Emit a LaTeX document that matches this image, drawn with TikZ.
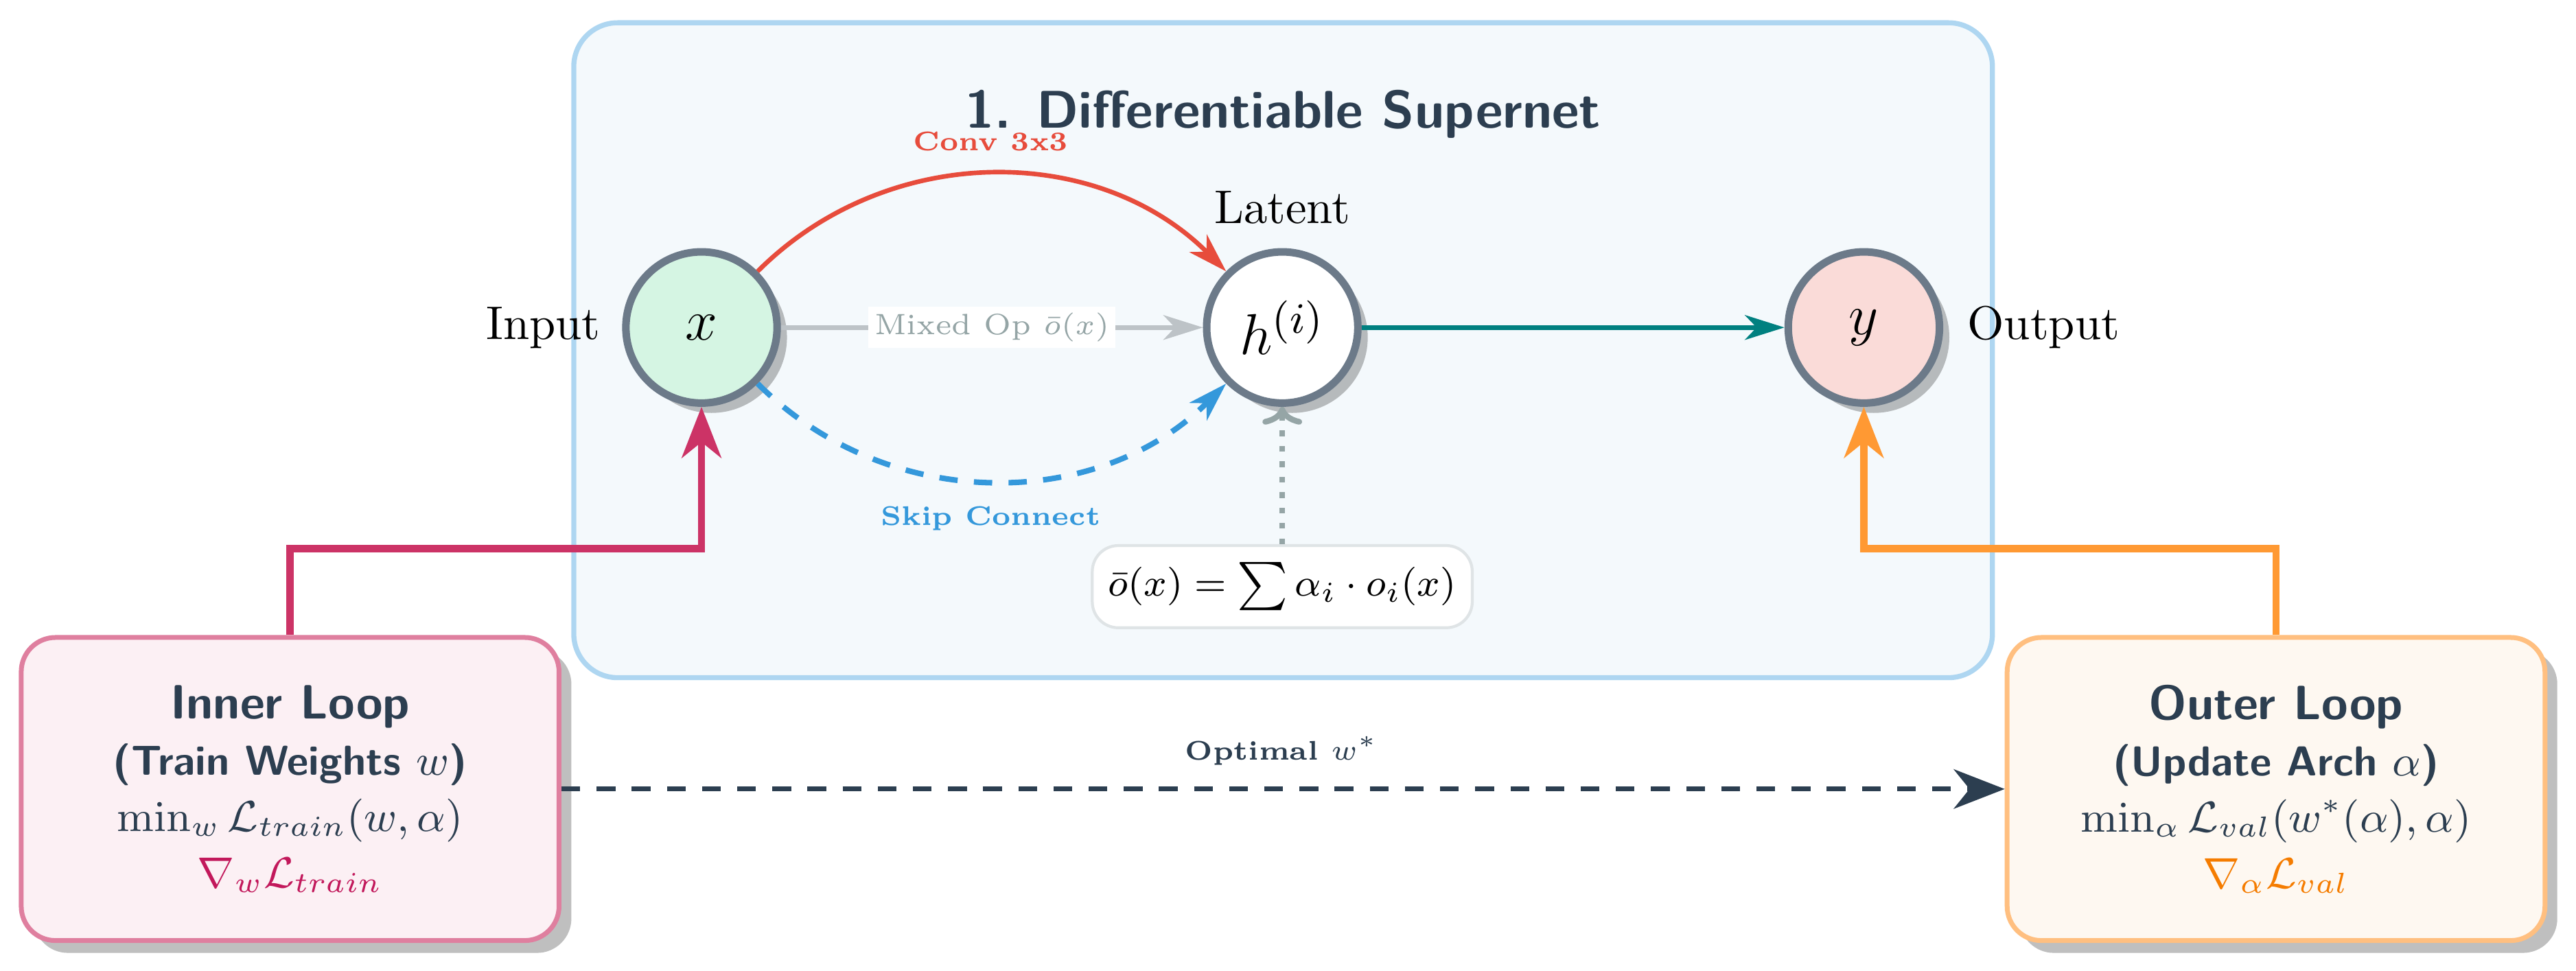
\documentclass[tikz,border=0pt]{standalone}
\usetikzlibrary{arrows.meta,shadows}
\definecolor{dark}{HTML}{2C3E50}
\definecolor{boxblue}{HTML}{AED6F1}
\definecolor{fillblue}{HTML}{F4F9FC}
\definecolor{nodegray}{HTML}{6C7A89}
\definecolor{xfill}{HTML}{D5F5E3}
\definecolor{yfill}{HTML}{FADBD8}
\definecolor{convred}{HTML}{E74C3C}
\definecolor{skipblue}{HTML}{3498DB}
\definecolor{mixgray}{HTML}{BDC3C7}
\definecolor{mixtext}{HTML}{95A5A6}
\definecolor{tealc}{HTML}{008080}
\definecolor{magc}{HTML}{CC3366}
\definecolor{orac}{HTML}{FF9933}
\definecolor{innerfill}{HTML}{FCF0F4}
\definecolor{innerdraw}{HTML}{DF7F9F}
\definecolor{outerfill}{HTML}{FEF8F1}
\definecolor{outerdraw}{HTML}{FFBF80}
\definecolor{gradred}{HTML}{C2185B}
\definecolor{gradorange}{HTML}{F57C00}
\definecolor{formdraw}{HTML}{DFE4E6}
\definecolor{dotgray}{HTML}{95A5A6}
\begin{document}
\begin{tikzpicture}[x=0.012cm,y=0.012cm,
  circ/.style={circle, draw=nodegray, line width=1.57pt, minimum size=1.104cm, inner sep=0pt,
    font=\fontsize{13}{15}\selectfont,
    drop shadow={shadow xshift=0.072cm, shadow yshift=-0.072cm, fill=black, opacity=0.25}},
  loopbox/.style={rounded corners=0.25cm, line width=1pt, minimum width=3.926cm, minimum height=2.213cm,
    align=center, text=dark, font=\fontsize{9}{11.7}\selectfont,
    drop shadow={shadow xshift=0.09cm, shadow yshift=-0.09cm, fill=black, opacity=0.25}},
  lbl/.style={font=\fontsize{5.6}{7}\selectfont\bfseries, anchor=base, inner sep=0pt},
  plainlbl/.style={font=\fontsize{9.8}{12}\selectfont, inner sep=0pt},
  headfont/.style={font=\fontsize{11}{13}\selectfont\sffamily\bfseries},
  bigarrow/.style={-{Stealth[length=0.372cm,width=0.288cm,inset=0.115cm]}},
  smallarrow/.style={-{Stealth[length=0.288cm,width=0.18cm,inset=0.085cm]}},
]
\useasboundingbox (0,0) rectangle (1568,591);

% supernet container
\node[draw=boxblue, fill=fillblue, line width=1.05pt, rounded corners=0.32cm,
      minimum width=10.356cm, minimum height=4.782cm] (supernet) at (781,377.75) {};
\node[headfont, text=dark, anchor=base, inner sep=0pt] (title) at (781,513) {1. Differentiable Supernet};

% nodes
\node[circ, fill=xfill] (x) at (427,391.6) {$x$};
\node[circ, fill=white] (h) at (780.5,391.6) {$h^{(i)}$};
\node[circ, fill=yfill] (y) at (1134.5,391.6) {$y$};

\node[plainlbl, anchor=east] (inlbl) at (366,391.6) {Input};
\node[plainlbl, anchor=west] (outlbl) at (1197,391.6) {Output};
\node[plainlbl, anchor=base] (latlbl) at (780.5,455) {Latent};

% edges inside supernet
\draw[mixgray, line width=0.95pt, smallarrow] (x) -- node[fill=white, inner sep=1.3pt, text=mixtext,
      font=\fontsize{6.1}{7}\selectfont] (mixlbl) {Mixed Op $\bar{o}(x)$} (h);
\draw[convred, line width=0.95pt, smallarrow] (x.45) to[out=45,in=135] (h.135);
\node[lbl, text=convred] (convlbl) at (603,499.2) {Conv 3x3};
\draw[skipblue, line width=1.15pt, dash pattern=on 3.8pt off 3.4pt, smallarrow] (x.-45) to[out=-45,in=-135] (h.-135);
\node[lbl, text=skipblue] (skiplbl) at (603,271) {Skip Connect};
\draw[tealc, line width=1.05pt, smallarrow] (h) -- (y);

% formula
\node[draw=formdraw, fill=white, line width=0.6pt, rounded corners=0.19cm, minimum width=2.69cm,
      minimum height=0.6cm, font=\fontsize{8.2}{10}\selectfont] (formula) at (780.5,233.8)
      {$\bar{o}(x) = \sum \alpha_i \cdot o_i(x)$};
\draw[dotgray, line width=1.2pt, dotted, -{Computer Modern Rightarrow[length=0.13cm,width=0.29cm]}]
      (formula.north) -- (h.south);

% loop boxes
\node[loopbox, draw=innerdraw, fill=innerfill] (inner) at (176.6,110.6)
  {{\fontsize{10}{12}\selectfont\sffamily\bfseries Inner Loop}\\
   {\fontsize{8.7}{10}\selectfont\sffamily\bfseries (Train Weights $w$)}\\
   $\min_w \mathcal{L}_{train}(w,\alpha)$\\
   {\color{gradred}$\nabla_w \mathcal{L}_{train}$}};
\node[loopbox, draw=outerdraw, fill=outerfill] (outer) at (1385.4,110.6)
  {{\fontsize{10}{12}\selectfont\sffamily\bfseries Outer Loop}\\
   {\fontsize{8.7}{10}\selectfont\sffamily\bfseries (Update Arch $\alpha$)}\\
   $\min_\alpha \mathcal{L}_{val}(w^*(\alpha),\alpha)$\\
   {\color{gradorange}$\nabla_\alpha \mathcal{L}_{val}$}};

% loop connectors
\draw[magc, line width=1.5pt, bigarrow] (inner.north) -- ++(0,52.7) -| (x.south);
\draw[orac, line width=1.5pt, bigarrow] (outer.north) -- ++(0,52.7) -| (y.south);
\draw[dark, line width=1.05pt, dash pattern=on 3.9pt off 3.4pt, bigarrow] (inner.east) -- (outer.west);
\node[lbl, text=dark] (optlbl) at (780,128.4) {Optimal $w^*$};
\end{tikzpicture}
\end{document}
